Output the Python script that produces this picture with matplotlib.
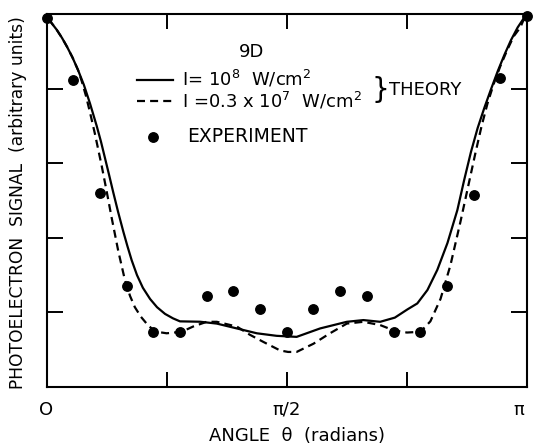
import numpy as np
import matplotlib
matplotlib.use("Agg")
import matplotlib.pyplot as plt
from matplotlib.lines import Line2D
from matplotlib.transforms import ScaledTranslation

# Experimental points (angle in degrees, signal in arbitrary units)
exp_deg = [0, 10, 20, 30, 40, 50, 60, 70, 80, 90, 100, 110, 120, 130, 140, 150, 160, 170, 180]
exp_sig = [4.95, 4.12, 2.60, 1.36, 0.74, 0.74, 1.22, 1.29, 1.04, 0.74, 1.04, 1.29, 1.22,
           0.74, 0.74, 1.36, 2.58, 4.14, 4.97]

# Theory, I = 1e8 W/cm^2 (solid)
solid_deg = [0.8, 3.8, 5.8, 7.7, 9.7, 11.8, 14.0, 16.3, 18.8, 20.4, 21.9, 23.4, 25.0, 26.8,
             28.8, 30.3, 31.9, 33.9, 36.1, 38.8, 41.4, 44.4, 47.4, 50.0, 57.5, 63.8, 71.3,
             78.8, 86.2, 93.7, 102.5, 112.5, 118.7, 125.0, 130.5, 135.2, 138.9, 142.7,
             146.4, 150.2, 153.9, 156.5, 159.0, 161.5, 164.0, 166.5, 169.0, 171.5, 174.0,
             176.5, 179.3]
solid_sig = [4.93, 4.79, 4.68, 4.56, 4.42, 4.25, 4.05, 3.80, 3.50, 3.29, 3.07, 2.85, 2.61, 2.35,
             2.08, 1.89, 1.70, 1.50, 1.33, 1.18, 1.07, 0.98, 0.92, 0.88, 0.875, 0.85, 0.785,
             0.72, 0.686, 0.672, 0.785, 0.874, 0.897, 0.874, 0.93, 1.04, 1.12, 1.30,
             1.57, 1.93, 2.37, 2.78, 3.15, 3.47, 3.74, 3.99, 4.23, 4.45, 4.65,
             4.82, 4.97]

# Theory, I = 0.3e7 W/cm^2 (dashed)
dash_deg = [0.8, 3.8, 5.8, 7.7, 9.7, 11.8, 13.2, 14.8, 16.3, 18.1, 20.7, 22.5, 24.4, 26.9,
            29.4, 31.3, 33.1, 35.4, 37.5, 39.5, 41.4, 45.0, 50.6, 54.9, 60.0, 63.8, 71.3,
            76.2, 81.2, 87.5, 90.5, 93.7, 100.0, 106.2, 112.5, 118.7, 125.0, 130.0, 135.0,
            140.1, 143.8, 147.6, 151.3, 155.1, 158.2, 160.7, 163.0, 165.2, 167.5, 170.0,
            172.5, 175.0, 177.5, 179.3]
dash_sig = [4.93, 4.79, 4.68, 4.56, 4.42, 4.25, 4.10, 3.90, 3.68, 3.40, 2.96, 2.63, 2.27, 1.82,
            1.43, 1.22, 1.07, 0.94, 0.85, 0.78, 0.74, 0.72, 0.74, 0.81, 0.874, 0.874, 0.81,
            0.70, 0.605, 0.49, 0.47, 0.47, 0.58, 0.72, 0.85, 0.874, 0.83, 0.76, 0.73,
            0.74, 0.88, 1.18, 1.63, 2.22, 2.73, 3.14, 3.50, 3.80, 4.06, 4.30,
            4.51, 4.70, 4.82, 4.97]

xtick_labels = ["O", "π/2", "π"]

plt.rcParams['font.family'] = ['DejaVu Sans']

W, H = 533, 446
L, R, T, B = 46.5, 527, 14, 387
fig = plt.figure(figsize=(W / 100, H / 100), dpi=100)
ax = fig.add_axes([L / W, 1 - B / H, (R - L) / W, (B - T) / H])

rad = lambda d: np.deg2rad(np.asarray(d, dtype=float))

ax.plot(rad(solid_deg), solid_sig, color='black', lw=1.6, solid_joinstyle='round')
ax.plot(rad(dash_deg), dash_sig, color='black', lw=1.6, dashes=(3.6, 2.3))
ax.plot(rad(exp_deg), exp_sig, 'o', color='black', ms=6.8, clip_on=False, zorder=5)

ax.set_xlim(0, np.pi)
ax.set_ylim(0, 5)
ax.set_xticks([0, np.pi / 4, np.pi / 2, 3 * np.pi / 4, np.pi])
ax.set_xticklabels([xtick_labels[0], "", xtick_labels[1], "", xtick_labels[2]], fontsize=13)
ax.set_yticks([1, 2, 3, 4])
ax.set_yticklabels([])
ax.tick_params(axis='y', direction='in', length=11.5, width=1.4, right=True)
ax.tick_params(axis='x', direction='in', length=10.5, width=1.4, top=True, pad=10)
for s in ax.spines.values():
    s.set_linewidth(1.5)

# the "π" label sits slightly left of the right edge in the original
lab = ax.get_xticklabels()[-1]
lab.set_transform(lab.get_transform() + ScaledTranslation(-8 / 100, 0, fig.dpi_scale_trans))

ax.set_xlabel("ANGLE  θ  (radians)", fontsize=13)
ax.xaxis.set_label_coords((297 - L) / (R - L), -(436 - B) / (B - T))
ax.xaxis.label.set_va('center')
ax.set_ylabel("PHOTOELECTRON  SIGNAL  (arbitrary units)", fontsize=12.3)
ax.yaxis.set_label_coords(-(L - 18) / (R - L), (B - 203) / (B - T))
ax.yaxis.label.set_va('center')

# legend drawn manually (figure pixel coordinates)
def fx(px):
    return px / W

def fy(py):
    return 1 - py / H

fig.text(fx(252), fy(52), "9D", fontsize=13, ha='center', va='center')
fig.add_artist(Line2D([fx(137), fx(173)], [fy(80), fy(80)], color='black', lw=1.6))
fig.add_artist(Line2D([fx(137), fx(173)], [fy(101), fy(101)], color='black', lw=1.6,
                      dashes=(3.6, 2.3)))
fig.text(fx(182), fy(79), "I= 10$^{8}$  W/cm$^{2}$", fontsize=13, ha='left', va='center')
fig.text(fx(182), fy(101), "I =0.3 x 10$^{7}$  W/cm$^{2}$", fontsize=13, ha='left', va='center')
fig.text(fx(380), fy(90), "}", fontsize=20, ha='center', va='center')
fig.text(fx(389), fy(90), "THEORY", fontsize=13, ha='left', va='center')
fig.add_artist(Line2D([fx(153)], [fy(137)], marker='o', color='black', ms=6.8, ls='none'))
fig.text(fx(187), fy(137), "EXPERIMENT", fontsize=13.5, ha='left', va='center')

fig.savefig("out.png", dpi=100)
